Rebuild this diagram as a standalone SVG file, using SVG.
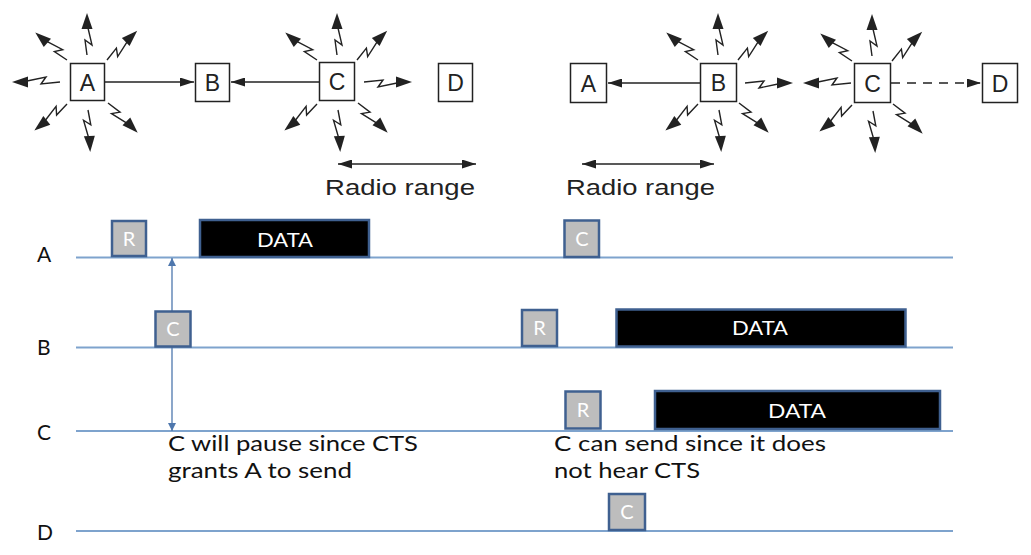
<svg xmlns="http://www.w3.org/2000/svg" width="1031" height="555" viewBox="0 0 1031 555">
<style>
.nb{fill:#fff;stroke:#222;stroke-width:1.5}
.nl{font-family:"Liberation Sans",Arial,sans-serif;font-size:23px;fill:#222;text-anchor:middle}
.rr{font-family:"Liberation Sans",Arial,sans-serif;font-size:22px;fill:#222}
.con{stroke:#222;stroke-width:1.3;fill:none}
.lane{stroke:#7ea3cd;stroke-width:2}
.gb{fill:#bdbdbd;stroke:#3f6090;stroke-width:2.5}
.db{fill:#000;stroke:#3f6090;stroke-width:2.5}
.bt{font-family:Lato,"Open Sans",sans-serif;font-size:20px;fill:#fff;text-anchor:middle}
.ll{font-family:Lato,"Open Sans",sans-serif;font-size:21px;fill:#111}
.ann{font-family:Lato,"Open Sans",sans-serif;font-size:21px;fill:#111}
</style>
<defs>
<marker id="ah" viewBox="0 0 14 9" refX="14" refY="4.5" markerWidth="14" markerHeight="9" markerUnits="userSpaceOnUse" orient="auto-start-reverse"><path d="M0,0 L14,4.5 L0,9 Z" fill="#222"/></marker>
<marker id="bh" viewBox="0 0 8 8" refX="8" refY="4" markerWidth="8" markerHeight="8" markerUnits="userSpaceOnUse" orient="auto-start-reverse"><path d="M0,0 L8,4 L0,8 Z" fill="#4e77ad"/></marker>
<g id="bolt"><path d="M0,0 L15,-2 L10,5 L27,1" fill="none" stroke="#222" stroke-width="1.4"/><path d="M26,-5.5 L42,0 L26,5.5 Z" fill="#222"/></g>
<g id="boltL"><path d="M0,0 L19,-2 L14,5 L33,1" fill="none" stroke="#222" stroke-width="1.4"/><path d="M32,-5.5 L48,0 L32,5.5 Z" fill="#222"/></g>
</defs>

<g id="lanes">
<line class="lane" x1="76" y1="257.5" x2="953" y2="257.5"/>
<line class="lane" x1="76" y1="347.5" x2="953" y2="347.5"/>
<line class="lane" x1="76" y1="431" x2="953" y2="431"/>
<line class="lane" x1="76" y1="531" x2="953" y2="531"/>
<text class="ll" x="37" y="262">A</text>
<text class="ll" x="37" y="355">B</text>
<text class="ll" x="37" y="440">C</text>
<text class="ll" x="37" y="540">D</text>
</g>

<g id="connectors">
<line class="con" x1="105" y1="82" x2="194" y2="82" marker-end="url(#ah)"/>
<line class="con" x1="319" y1="82" x2="231" y2="82" marker-end="url(#ah)"/>
<line class="con" x1="338" y1="164" x2="476" y2="164" marker-start="url(#ah)" marker-end="url(#ah)"/>
<line class="con" x1="700" y1="83" x2="608" y2="83" marker-end="url(#ah)"/>
<line class="con" x1="891" y1="83" x2="981" y2="83" stroke-dasharray="9,7" marker-end="url(#ah)"/>
<line class="con" x1="582" y1="164" x2="714" y2="164" marker-start="url(#ah)" marker-end="url(#ah)"/>
<line x1="172" y1="258" x2="172" y2="431" stroke="#4e77ad" stroke-width="1.3" marker-start="url(#bh)" marker-end="url(#bh)"/>
</g>

<g id="top-A">
<use href="#bolt" transform="translate(87,55) rotate(-90)"/>
<use href="#bolt" transform="translate(67,60) rotate(-139)"/>
<use href="#bolt" transform="translate(107,60) rotate(-44)"/>
<use href="#boltL" transform="translate(60,82) rotate(180)"/>
<use href="#bolt" transform="translate(67,104) rotate(141)"/>
<use href="#bolt" transform="translate(88,110) rotate(87)"/>
<use href="#bolt" transform="translate(108,103) rotate(45)"/>
<rect class="nb" x="70.5" y="63.5" width="34" height="37"/>
<text class="nl" x="87.5" y="90.5">A</text>
</g>
<g id="top-B">
<rect class="nb" x="195.5" y="63.5" width="34" height="38"/>
<text class="nl" x="212.5" y="91">B</text>
</g>
<g id="top-C">
<use href="#bolt" transform="translate(337,55) rotate(-90)"/>
<use href="#bolt" transform="translate(317,60) rotate(-139)"/>
<use href="#bolt" transform="translate(357,60) rotate(-44)"/>
<use href="#boltL" transform="translate(364,82) rotate(0)"/>
<use href="#bolt" transform="translate(317,104) rotate(141)"/>
<use href="#bolt" transform="translate(338,110) rotate(87)"/>
<use href="#bolt" transform="translate(358,103) rotate(45)"/>
<rect class="nb" x="319.5" y="62.5" width="35" height="38"/>
<text class="nl" x="337" y="90">C</text>
</g>
<g id="top-D">
<rect class="nb" x="438.5" y="63.5" width="34" height="38"/>
<text class="nl" x="455.5" y="91">D</text>
</g>
<text class="rr" x="325" y="195" textLength="150" lengthAdjust="spacingAndGlyphs">Radio range</text>

<g id="top2-A">
<rect class="nb" x="570.5" y="63.5" width="36" height="39"/>
<text class="nl" x="588.5" y="91.5">A</text>
</g>
<g id="top2-B">
<use href="#bolt" transform="translate(718,55) rotate(-90)"/>
<use href="#bolt" transform="translate(698,60) rotate(-139)"/>
<use href="#bolt" transform="translate(738,60) rotate(-44)"/>
<use href="#boltL" transform="translate(745,83) rotate(0)"/>
<use href="#bolt" transform="translate(698,104) rotate(141)"/>
<use href="#bolt" transform="translate(719,110) rotate(87)"/>
<use href="#bolt" transform="translate(739,103) rotate(45)"/>
<rect class="nb" x="700.5" y="63.5" width="36" height="38"/>
<text class="nl" x="718.5" y="91">B</text>
</g>
<g id="top2-C">
<use href="#bolt" transform="translate(872,56) rotate(-90)"/>
<use href="#bolt" transform="translate(852,61) rotate(-139)"/>
<use href="#bolt" transform="translate(892,61) rotate(-44)"/>
<use href="#boltL" transform="translate(851,83) rotate(180)"/>
<use href="#bolt" transform="translate(852,105) rotate(141)"/>
<use href="#bolt" transform="translate(873,111) rotate(87)"/>
<use href="#bolt" transform="translate(893,104) rotate(45)"/>
<rect class="nb" x="854.5" y="63.5" width="36" height="39"/>
<text class="nl" x="872.5" y="91.5">C</text>
</g>
<g id="top2-D">
<rect class="nb" x="982.5" y="63.5" width="35" height="39"/>
<text class="nl" x="1000" y="91.5">D</text>
</g>
<text class="rr" x="566" y="195" textLength="149" lengthAdjust="spacingAndGlyphs">Radio range</text>

<g id="A-rts"><rect class="gb" x="112" y="221" width="34" height="35"/><text class="bt" x="129" y="245.5">R</text></g>
<g id="A-data"><rect class="db" x="200" y="220" width="169" height="37"/><text class="bt" x="285" y="247" textLength="56" lengthAdjust="spacingAndGlyphs">DATA</text></g>
<g id="A-cts"><rect class="gb" x="564.5" y="220.5" width="34.5" height="36.5"/><text class="bt" x="582" y="246">C</text></g>
<g id="B-cts"><rect class="gb" x="155.5" y="311.5" width="35" height="35"/><text class="bt" x="173" y="336">C</text></g>
<g id="B-rts"><rect class="gb" x="522" y="310" width="35" height="36"/><text class="bt" x="539.5" y="335">R</text></g>
<g id="B-data"><rect class="db" x="616.5" y="309.5" width="289" height="37"/><text class="bt" x="760" y="335" textLength="56" lengthAdjust="spacingAndGlyphs">DATA</text></g>
<g id="C-rts"><rect class="gb" x="565.5" y="391.5" width="35" height="37"/><text class="bt" x="583" y="417">R</text></g>
<g id="C-data"><rect class="db" x="655" y="391" width="285" height="38"/><text class="bt" x="797" y="418" textLength="58" lengthAdjust="spacingAndGlyphs">DATA</text></g>
<g id="D-cts"><rect class="gb" x="609" y="494" width="36" height="36"/><text class="bt" x="627" y="519">C</text></g>

<g id="notes">
<text class="ann" x="168" y="451" textLength="250" lengthAdjust="spacingAndGlyphs">C will pause since CTS</text>
<text class="ann" x="168" y="478" textLength="184" lengthAdjust="spacingAndGlyphs">grants A to send</text>
<text class="ann" x="554" y="451" textLength="272" lengthAdjust="spacingAndGlyphs">C can send since it does</text>
<text class="ann" x="554" y="478" textLength="146" lengthAdjust="spacingAndGlyphs">not hear CTS</text>
</g>
</svg>
